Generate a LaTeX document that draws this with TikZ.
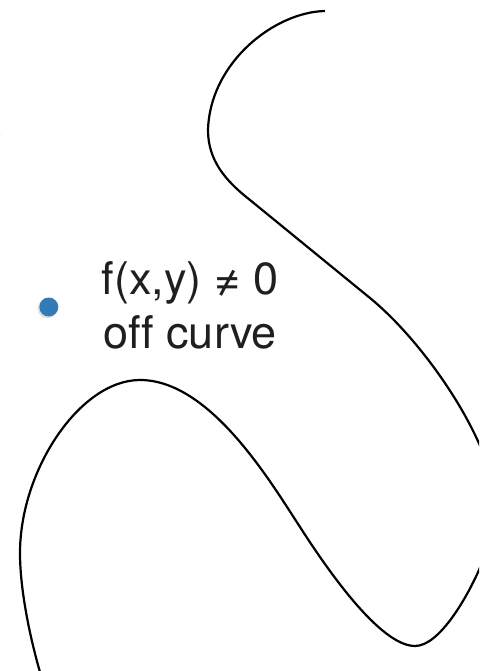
\documentclass[tikz,border=0pt]{standalone}
\usepackage{fontspec}
\setmainfont{TeX Gyre Heros}[Ligatures=NoCommon]
\definecolor{dotblue}{RGB}{52,122,182}
\begin{document}
\begin{tikzpicture}[
    x=1pt, y=-1pt,
    every node/.style={font=\fontsize{45}{54}\selectfont, text=black!88, inner sep=0pt},
    lbl/.style={align=center},
    curveline/.style={line width=2.2pt, black, line join=round},
    pt/.style={circle, fill=dotblue, minimum size=19pt},
]
\useasboundingbox (0,0) rectangle (479,671);
\clip (0,0) rectangle (479,671);
% the curve f(x,y)=0
\draw[curveline] (325,11) .. controls (275,12) and (210,62) .. (208,130)
    .. controls (208,160) and (225,180.5) .. (250,200) -- (370,298)
    .. controls (420,339) and (477,420) .. (492,480)
    .. controls (497,500) and (488,550) .. (479,570)
    .. controls (468,595) and (440,646) .. (415,646)
    .. controls (380,646) and (327,569) .. (300,527)
    .. controls (270,481) and (210,380) .. (140,380)
    .. controls (80,380) and (20,470) .. (20,553)
    .. controls (20,600) and (36,661) .. (44,685);
% point off the curve
\fill[black!25, opacity=0.5] (47.5,308.5) circle (9.8pt);
\node[pt] (p) at (48.8,307) {};
\node[lbl] (off) at (190,305.5) {f(x,y) ≠ 0\\off curve};
\node[anchor=base east] (cut) at (2.5,148) {e};
\end{tikzpicture}
\end{document}
